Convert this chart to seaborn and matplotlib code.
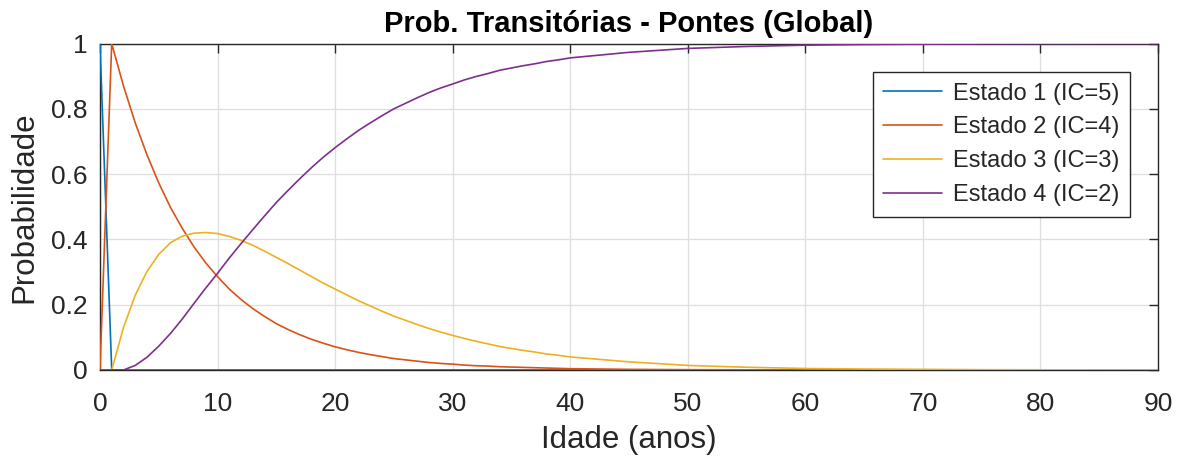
import numpy as np
import pandas as pd
import seaborn as sns
import matplotlib.pyplot as plt
from matplotlib.ticker import FuncFormatter

# idade (anos) - yearly up to 40, then every 5 years
idade = list(range(0, 41)) + [45, 50, 55, 60, 65, 70, 75, 80, 85, 90]

estado_1 = [1.0] + [0.0] * 50

estado_2 = [0.0, 1.0, 0.87, 0.757, 0.659, 0.573, 0.498, 0.434, 0.377, 0.328, 0.286,
            0.248, 0.216, 0.188, 0.164, 0.142, 0.124, 0.108, 0.094, 0.082, 0.071,
            0.062, 0.054, 0.047, 0.041, 0.035, 0.031, 0.027, 0.023, 0.020, 0.018,
            0.015, 0.013, 0.012, 0.010, 0.009, 0.008, 0.007, 0.006, 0.005, 0.004,
            0.002, 0.001, 0.0005, 0.0003, 0.0001, 0.0, 0.0, 0.0, 0.0, 0.0]

estado_3 = [0.0, 0.0, 0.13, 0.229, 0.302, 0.354, 0.390, 0.410, 0.419, 0.421, 0.418,
            0.409, 0.397, 0.382, 0.364, 0.345, 0.326, 0.306, 0.286, 0.266, 0.248,
            0.230, 0.212, 0.196, 0.180, 0.165, 0.152, 0.139, 0.127, 0.116, 0.106,
            0.0965, 0.088, 0.080, 0.072, 0.066, 0.060, 0.055, 0.049, 0.045, 0.040,
            0.025, 0.014, 0.0084, 0.0046, 0.003, 0.002, 0.001, 0.0006, 0.0003, 0.0002]

estado_4 = [0.0, 0.0, 0.0, 0.014, 0.039, 0.073, 0.112, 0.156, 0.204, 0.251, 0.296,
            0.343, 0.387, 0.430, 0.472, 0.513, 0.550, 0.586, 0.620, 0.652, 0.681,
            0.708, 0.734, 0.757, 0.779, 0.800, 0.817, 0.834, 0.850, 0.864, 0.876,
            0.8885, 0.899, 0.908, 0.918, 0.925, 0.932, 0.938, 0.945, 0.950, 0.956,
            0.973, 0.985, 0.991, 0.995, 0.997, 0.998, 0.999, 0.9994, 0.9997, 0.9998]

labels = ['Estado 1 (IC=5)', 'Estado 2 (IC=4)', 'Estado 3 (IC=3)', 'Estado 4 (IC=2)']
cores = ['#0072BD', '#D95319', '#EDB120', '#7E2F8E']

df = pd.DataFrame({
    'Idade': idade * 4,
    'Prob': estado_1 + estado_2 + estado_3 + estado_4,
    'Estado': [labels[0]] * len(idade) + [labels[1]] * len(idade)
              + [labels[2]] * len(idade) + [labels[3]] * len(idade),
})

sns.set_style('white')
plt.rcParams['font.family'] = ['Liberation Sans', 'DejaVu Sans']

fig = plt.figure(figsize=(11.9, 4.61), dpi=100)
ax = fig.add_axes([0.0840, 0.1974, 0.9731 - 0.0840, 0.9056 - 0.1974])

sns.lineplot(data=df, x='Idade', y='Prob', hue='Estado', palette=cores,
             estimator=None, sort=False, linewidth=1.2, zorder=3, ax=ax)

ax.set_xlim(0, 90)
ax.set_ylim(0, 1)
ax.set_xticks(range(0, 91, 10))
ax.set_yticks([0, 0.2, 0.4, 0.6, 0.8, 1])
ax.yaxis.set_major_formatter(FuncFormatter(lambda v, p: '%g' % v))

ax.grid(True, color='#dedede', linewidth=0.9)
ax.set_axisbelow(True)
for s in ax.spines.values():
    s.set_color('#262626')
    s.set_linewidth(1.0)
ax.tick_params(direction='in', length=6.5, width=1.0, color='#262626',
               top=True, right=True, labelsize=19, labelcolor='#262626')
ax.tick_params(axis='x', pad=16)
ax.tick_params(axis='y', pad=9)

ax.set_xlabel('Idade (anos)', fontsize=22.5, color='#262626', labelpad=6)
ax.set_ylabel('Probabilidade', fontsize=22.5, color='#262626', labelpad=8)
ax.set_title('Prob. Transitórias - Pontes (Global)', fontsize=21, fontweight='bold',
             color='black', pad=8)

leg = ax.legend(loc='upper right', bbox_to_anchor=(0.9735, 0.9127), borderaxespad=0,
                fontsize=17, frameon=True, fancybox=False, framealpha=1,
                edgecolor='#262626', handlelength=2.5, handletextpad=0.45,
                labelspacing=0.5, borderpad=0.45)
leg.get_frame().set_linewidth(1.0)
for t in leg.get_texts():
    t.set_color('#262626')

fig.savefig('out.png', dpi=100, facecolor='white')
